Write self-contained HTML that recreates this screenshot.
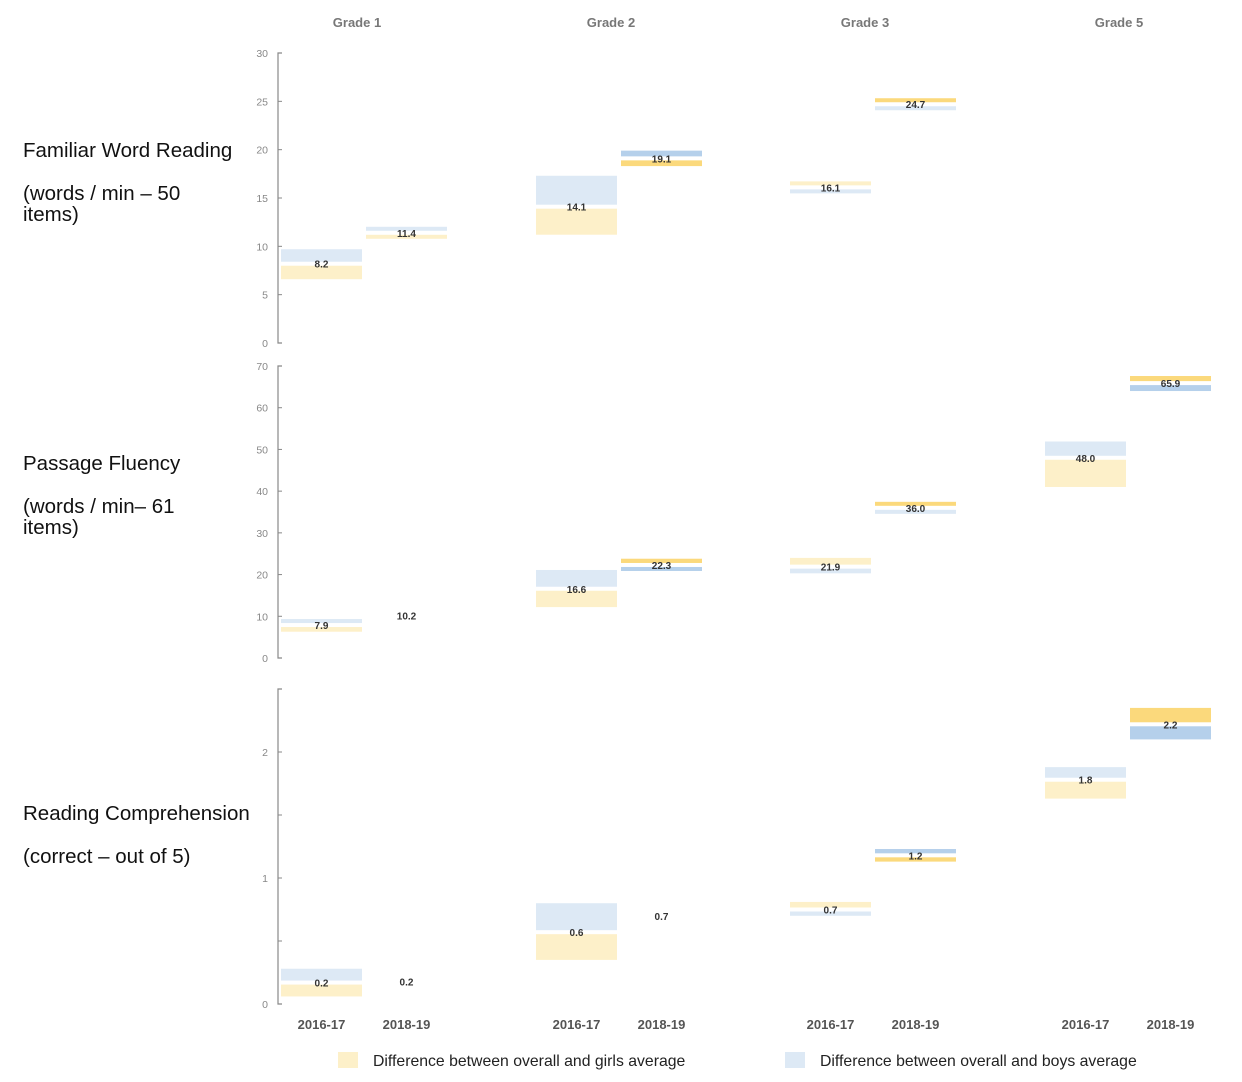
<!DOCTYPE html>
<html><head><meta charset="utf-8">
<style>
body{margin:0;background:#fff;width:1242px;height:1082px;overflow:hidden;font-family:"Liberation Sans",sans-serif}
svg{display:block}
</style></head>
<body>
<svg id="chart" width="1242" height="1082" xmlns="http://www.w3.org/2000/svg"></svg>
<script>
const grades = ["Grade 1","Grade 2","Grade 3","Grade 5"];
const years = ["2016-17","2018-19"];
const panelTitles = [["Familiar Word Reading","(words / min – 50","items)"],["Passage Fluency","(words / min– 61","items)"],["Reading Comprehension","(correct – out of 5)"]];
// per panel, per cell (G1-16,G1-18,G2-16,G2-18,G3-16,G3-18,G5-16,G5-18); null = no data
const overall1 = [8.2,11.4,14.1,19.1,16.1,24.7,null,null];
const boys1    = [9.7,11.7,17.3,19.9,15.6,24.1,null,null];
const girls1   = [6.6,11.1,11.2,18.3,16.6,25.3,null,null];
const labels1  = ["8.2","11.4","14.1","19.1","16.1","24.7","",""];
const overall2 = [7.9,10.2,16.6,22.3,21.9,36.0,48.0,65.9];
const boys2    = [9.1,10.2,21.1,20.9,20.3,35.0,51.9,64.0];
const girls2   = [6.3,10.2,12.2,23.8,24.0,37.0,41.0,67.6];
const labels2  = ["7.9","10.2","16.6","22.3","21.9","36.0","48.0","65.9"];
const overall3 = [0.17,0.18,0.57,0.7,0.75,1.18,1.78,2.22];
const boys3    = [0.28,0.18,0.80,0.7,0.70,1.23,1.88,2.10];
const girls3   = [0.06,0.18,0.35,0.7,0.81,1.13,1.63,2.35];
const labels3  = ["0.2","0.2","0.6","0.7","0.7","1.2","1.8","2.2"];
const yTicks1 = [0,5,10,15,20,25,30];
const yTicks2 = [0,10,20,30,40,50,60,70];
const yTicks3 = [0,0.5,1,1.5,2];
const yLabels3 = ["0","","1","","2"];

// styling (not data)
const sat = [[0,0,0,1,0,1,0,0],[0,0,0,1,0,1,0,1],[0,0,0,0,0,1,0,1]];
const boySat = [[0,0,0,1,0,0,0,0],[0,0,0,1,0,0,0,1],[0,0,0,0,0,1,0,1]];
const panels = [
 {ov:overall1,b:boys1,g:girls1,lab:labels1,ticks:yTicks1,tl:yTicks1.map(String),max:30,y0:343,y1:53,top:53,ty:150},
 {ov:overall2,b:boys2,g:girls2,lab:labels2,ticks:yTicks2,tl:yTicks2.map(String),max:70,y0:658,y1:366,top:366,ty:463},
 {ov:overall3,b:boys3,g:girls3,lab:labels3,ticks:yTicks3,tl:yLabels3,max:2.5,y0:1004,y1:689,top:689,ty:813}
];
const NS="http://www.w3.org/2000/svg";
const svg=document.getElementById('chart');
function mk(t,a,p){const e=document.createElementNS(NS,t);for(const k in a)e.setAttribute(k,a[k]);(p||svg).appendChild(e);return e;}
const axisX=278, barW=81;
const cellX=[281,366,536,621,790,875,1045,1130];
const gradeX=[357,611,865,1119];

grades.forEach((g,i)=>{const t=mk('text',{x:gradeX[i],y:27,'text-anchor':'middle','font-size':13,'font-weight':'bold',fill:'#777'});t.textContent=g;

});

panels.forEach((p,pi)=>{
 const gp=mk('g',{});
 
 
 const ys=v=>p.y0-(v/p.max)*(p.y0-p.y1);
 panelTitles[pi].forEach((l,li)=>{
  const y = p.ty + (li===0?0:(li===1?43:64));
  const t=mk('text',{x:23,y:y+7,'font-size':20.5,fill:'#111'},gp);t.textContent=l;
  
  
 });
 const ax=mk('path',{d:`M${axisX+4},${p.top}H${axisX}V${p.y0}H${axisX+4}`,stroke:'#888','stroke-width':1.2,fill:'none'},gp);
 
 
 p.ticks.forEach((v,i)=>{
  const y=ys(v);
  mk('line',{x1:axisX,x2:axisX+4,y1:y,y2:y,stroke:'#888'},gp);
  if(p.tl[i]!==''){const t=mk('text',{x:268,y:y+4,'font-size':10.5,fill:'#888','text-anchor':'end'},gp);t.textContent=p.tl[i];
  
  }
 });
 p.ov.forEach((o,ci)=>{
  if(o===null)return;
  const x=cellX[ci], yo=ys(o);
  const yc=sat[pi][ci]?'#fbd97c':'#fdf0c9';
  const bc=boySat[pi][ci]?'#b5d0eb':'#dde9f5';
  [[p.g[ci],yc,'girls-bar'],[p.b[ci],bc,'boys-bar']].forEach(([v,c,n])=>{
   const yv=ys(v); if(Math.abs(yv-yo)<0.5)return;
   const gap=2;
   let y1,y2;
   if(yv<yo){y1=yv;y2=yo-gap;}else{y1=yo+gap;y2=yv;}
   if(y2-y1<4){ if(yv<yo){y1=y2-4;}else{y2=y1+4;} }
   const r=mk('rect',{x:x,y:y1,width:barW,height:y2-y1,fill:c},gp);
   
   
  });
  const t=mk('text',{x:x+barW/2,y:yo+4,'font-size':10,'font-weight':'bold',fill:'#333','text-anchor':'middle'},gp);
  t.textContent=p.lab[ci];
  
  
 });
});
cellX.forEach((x,i)=>{const t=mk('text',{x:x+barW/2,y:1029,'font-size':13,'font-weight':'bold',fill:'#555','text-anchor':'middle'});t.textContent=years[i%2];

});
const lg=mk('g',{});


[[338,'#fdf0c9','Difference between overall and girls average'],[785,'#dde9f5','Difference between overall and boys average']].forEach(([x,c,s])=>{
 const r=mk('rect',{x:x,y:1052,width:20,height:16,fill:c},lg);
 
 
 const t=mk('text',{x:x+35,y:1066,'font-size':15.8,fill:'#222'},lg);t.textContent=s;
 
 
});
</script>
</body></html>
